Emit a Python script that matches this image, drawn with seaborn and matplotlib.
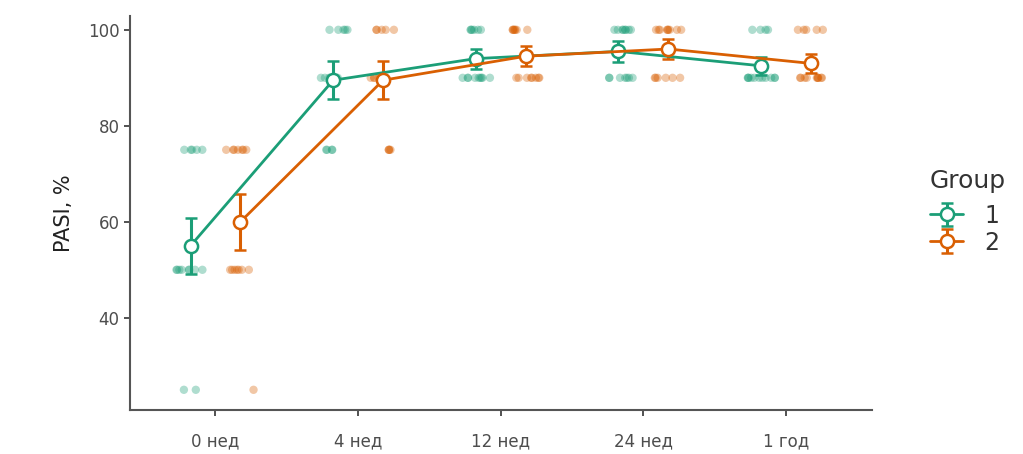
import numpy as np
import pandas as pd
import matplotlib
matplotlib.use('Agg')
import matplotlib.pyplot as plt
import seaborn as sns

np.random.seed(3)

times = ['0 нед', '4 нед', '12 нед', '24 нед', '1 год']
groups = ['1', '2']

# individual PASI values per time point
g1_pasi = [
    [75] * 5 + [50] * 8 + [25] * 2,
    [100] * 5 + [90] * 6 + [75] * 4,
    [100] * 6 + [90] * 9,
    [100] * 8 + [90] * 7,
    [100] * 4 + [90] * 11,
]
g2_pasi = [
    [75] * 7 + [50] * 7 + [25] * 1,
    [100] * 5 + [90] * 6 + [75] * 4,
    [100] * 7 + [90] * 8,
    [100] * 9 + [90] * 6,
    [100] * 5 + [90] * 10,
]

# group means and error bar half-widths
g1_mean = [55, 89.5, 94, 95.5, 92.5]
g2_mean = [60, 89.5, 94.5, 96, 93]
g1_err = [5.8, 4.0, 2.1, 2.2, 1.9]
g2_err = [5.8, 4.0, 2.1, 2.1, 1.9]

colors = {'1': '#1B9E77', '2': '#D95F02'}
shift = {'1': -0.175, '2': 0.175}

rows = []
for g, vals in zip(groups, [g1_pasi, g2_pasi]):
    for i, vv in enumerate(vals):
        for v in vv:
            rows.append({'pos': i + shift[g], 'pasi': v, 'Group': g})
df = pd.DataFrame(rows)

sns.set_theme(style='white')
plt.rcParams['font.family'] = ['DejaVu Sans']

fig, ax = plt.subplots(figsize=(10.23, 4.54), dpi=100)
fig.subplots_adjust(left=0.127, right=0.852, top=0.965, bottom=0.097)

sns.stripplot(data=df, x='pos', y='pasi', hue='Group', palette=colors,
              native_scale=True, jitter=0.3, size=6, alpha=0.35,
              linewidth=0, legend=False, ax=ax)

handles = []
for g, mm, ee in [('1', g1_mean, g1_err), ('2', g2_mean, g2_err)]:
    xs = np.arange(len(times)) + shift[g]
    h = ax.errorbar(xs, mm, yerr=ee, color=colors[g], lw=2, elinewidth=2.2,
                    capsize=4, capthick=2, marker='o', ms=9.5,
                    mfc='white', mec=colors[g], mew=1.8, zorder=5, label=g)
    handles.append(h)

ax.set_xlim(-0.6, 4.6)
ax.set_ylim(20.8, 102.9)
ax.set_xticks(range(len(times)))
ax.set_xticklabels(times)
ax.set_yticks([40, 60, 80, 100])
ax.set_xlabel('')
ax.set_ylabel('PASI, %', fontsize=15, color='#222222', labelpad=10)

for s in ['top', 'right']:
    ax.spines[s].set_visible(False)
for s in ['left', 'bottom']:
    ax.spines[s].set_color('#555555')
    ax.spines[s].set_linewidth(1.5)
ax.tick_params(axis='both', which='both', length=4, width=1.2, color='#333333',
               labelcolor='#4D4D4D', labelsize=12, direction='out',
               bottom=True, left=True)
ax.tick_params(axis='x', pad=12)

leg = fig.legend(handles=handles, labels=groups, title='Group', loc='upper left',
                 bbox_to_anchor=(0.893, 0.665), frameon=False, fontsize=17,
                 title_fontsize=18, handlelength=1.4, handletextpad=0.9,
                 labelspacing=0.12, borderpad=0.2)
leg._legend_box.align = 'left'
leg._legend_box.sep = 8
for t in leg.get_texts():
    t.set_color('#333333')
leg.get_title().set_color('#333333')

fig.savefig('out.png', dpi=100)
